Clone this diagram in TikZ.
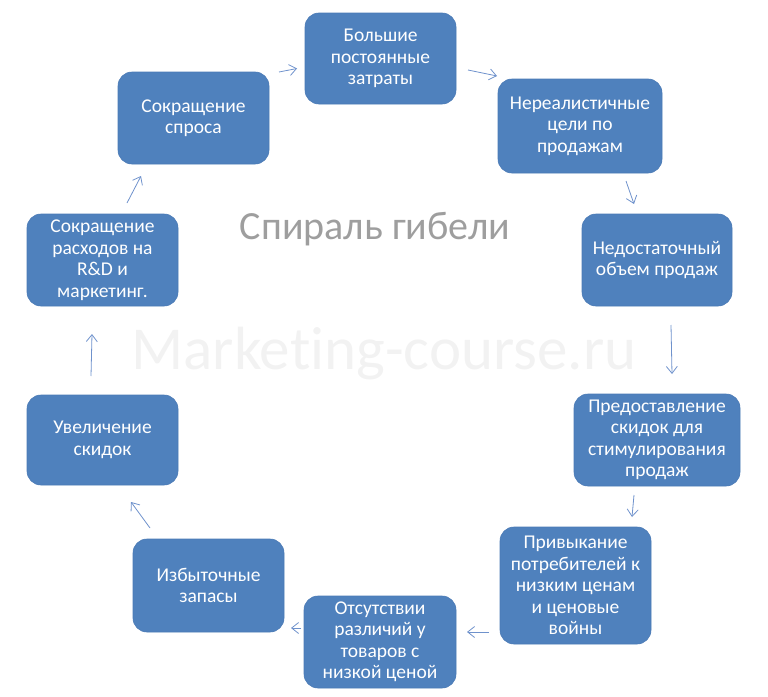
\documentclass[tikz,border=0pt]{standalone}
\usepackage{fontspec}
\setmainfont{Carlito}
\newfontfamily\wmfont[Ligatures=NoCommon]{Carlito}
\usetikzlibrary{arrows.meta}
\definecolor{boxblue}{HTML}{4F81BD}
\definecolor{boxedge}{HTML}{4A7AB5}
\definecolor{arrblue}{HTML}{6F92CC}
\definecolor{titlegray}{HTML}{9E9E9E}
\definecolor{wmgray}{HTML}{F2F2F2}
\tikzset{
  stagebox/.style={rectangle, rounded corners=14pt, fill=boxblue, draw=boxedge, line width=0.6pt,
    text=white, align=center, inner sep=0pt, font=\fontsize{19.5}{21.5}\selectfont},
  arr/.style={draw=arrblue, line width=0.8pt, -{Straight Barb[length=7pt,width=11pt]}}
}
\begin{document}
\begin{tikzpicture}[x=1pt,y=-1pt]
\useasboundingbox (0,0) rectangle (768,696);
% watermark and title
\node[text=wmgray, font=\wmfont\fontsize{61}{66}\selectfont, inner sep=0pt, anchor=base] (wm) at (384,369) {Marketing-course.ru};
\node[text=titlegray, font=\fontsize{40}{44}\selectfont, inner sep=0pt, anchor=base] (title) at (375,239) {Спираль гибели};
% boxes
\node[stagebox, minimum width=151pt, minimum height=91pt] (big) at (380.5,58.5) {Большие\\постоянные\\затраты};
\node[stagebox, minimum width=164pt, minimum height=94pt] (nereal) at (580,126) {Нереалистичные\\цели по\\продажам};
\node[stagebox, minimum width=150pt, minimum height=92pt] (nedost) at (657,260) {Недостаточный\\объем продаж};
\node[stagebox, minimum width=166pt, minimum height=92pt] (predost) at (657,440) {Предоставление\\скидок для\\стимулирования\\продаж};
\node[stagebox, minimum width=151pt, minimum height=117pt] (privyk) at (575.5,585.5) {Привыкание\\потребителей к\\низким ценам\\и ценовые\\войны};
\node[stagebox, minimum width=152pt, minimum height=92pt] (otsut) at (380,642) {Отсутствии\\различий у\\товаров с\\низкой ценой};
\node[stagebox, minimum width=151pt, minimum height=93pt] (izbyt) at (208.5,585.5) {Избыточные\\запасы};
\node[stagebox, minimum width=151pt, minimum height=90pt] (uvel) at (102.5,440) {Увеличение\\скидок};
\node[stagebox, minimum width=151pt, minimum height=92pt] (rasx) at (102.5,260) {Сокращение\\расходов на\\R\&D и\\маркетинг.};
\node[stagebox, minimum width=151pt, minimum height=92pt] (spros) at (193.5,118) {Сокращение\\спроса};
% arrow end points
\coordinate (a1s) at (279,72);  \coordinate (a1e) at (297,68.5);
\coordinate (a2s) at (468,70);  \coordinate (a2e) at (497,76);
\coordinate (a3s) at (626,181); \coordinate (a3e) at (634,204);
\coordinate (a4s) at (671,325); \coordinate (a4e) at (672,374);
\coordinate (a5s) at (634,495); \coordinate (a5e) at (632,517);
\coordinate (a6s) at (489,632); \coordinate (a6e) at (467,632);
\coordinate (a7s) at (301,628); \coordinate (a7e) at (291,628);
\coordinate (a8s) at (150,528); \coordinate (a8e) at (131,502);
\coordinate (a9s) at (91,376);  \coordinate (a9e) at (92,334);
\coordinate (a10s) at (127,203); \coordinate (a10e) at (141,176);
\foreach \i in {1,...,10} { \draw[arr] (a\i s) -- (a\i e); }
\end{tikzpicture}
\end{document}
